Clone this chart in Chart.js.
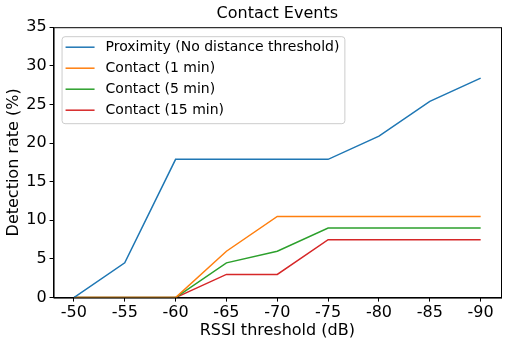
<!DOCTYPE html>
<html>
<head>
<meta charset="utf-8">
<script src="https://cdn.jsdelivr.net/npm/chart.js@4"></script>
<style>
  body { margin: 0; background: #fff; }
  #wrap { width: 507px; height: 345px; }
</style>
</head>
<body>
<div id="wrap"><canvas id="c" width="507" height="345"></canvas></div>
<script>
const thresholds = ['-50', '-55', '-60', '-65', '-70', '-75', '-80', '-85', '-90'];
const proximity = [0, 4.5, 17.9, 17.9, 17.9, 17.9, 20.9, 25.4, 28.4];
const contact1 = [0, 0, 0, 6.0, 10.5, 10.5, 10.5, 10.5, 10.5];
const contact5 = [0, 0, 0, 4.5, 6.0, 9.0, 9.0, 9.0, 9.0];
const contact15 = [0, 0, 0, 3.0, 3.0, 7.5, 7.5, 7.5, 7.5];
const yTicks = [0, 5, 10, 15, 20, 25, 30, 35];

const FONT = 'DejaVu Sans';
const pts = arr => arr.map((v, i) => ({ x: i, y: v }));

// box around the plot and legend drawn inside the axes, like matplotlib
const frameAndLegend = {
    id: 'frameAndLegend',
    afterDraw(chart) {
        const { ctx, chartArea: a } = chart;
        ctx.save();
        ctx.strokeStyle = '#000';
        ctx.lineWidth = 1;
        ctx.strokeRect(a.left + 0.5, a.top + 0.5, a.right - a.left, a.bottom - a.top);

        const x0 = a.left + 8, y0 = a.top + 9;
        ctx.font = '14px ' + FONT;
        let w = 0;
        chart.data.datasets.forEach(d => { w = Math.max(w, ctx.measureText(d.label).width); });
        const boxW = w + 49, boxH = 4 * 21 + 3;
        ctx.fillStyle = 'rgba(255,255,255,0.8)';
        ctx.strokeStyle = '#cccccc';
        ctx.beginPath();
        ctx.roundRect(x0 + 0.5, y0 + 0.5, boxW, boxH, 3);
        ctx.fill();
        ctx.stroke();
        ctx.textBaseline = 'middle';
        chart.data.datasets.forEach((d, i) => {
            const yy = y0 + 11 + i * 21;
            ctx.strokeStyle = d.borderColor;
            ctx.lineWidth = 1.5;
            ctx.beginPath();
            ctx.moveTo(x0 + 4, yy);
            ctx.lineTo(x0 + 33, yy);
            ctx.stroke();
            ctx.fillStyle = '#000';
            ctx.fillText(d.label, x0 + 44, yy);
        });
        ctx.restore();
    }
};

new Chart(document.getElementById('c'), {
    type: 'line',
    data: {
        datasets: [
            { label: 'Proximity (No distance threshold)', data: pts(proximity), borderColor: '#1f77b4' },
            { label: 'Contact (1 min)', data: pts(contact1), borderColor: '#ff7f0e' },
            { label: 'Contact (5 min)', data: pts(contact5), borderColor: '#2ca02c' },
            { label: 'Contact (15 min)', data: pts(contact15), borderColor: '#d62728' }
        ]
    },
    options: {
        responsive: false,
        animation: false,
        elements: { point: { radius: 0 }, line: { borderWidth: 1.5, tension: 0 } },
        layout: { padding: { top: 0, right: 6, bottom: -1, left: 4 } },
        plugins: {
            legend: { display: false },
            tooltip: { enabled: false },
            title: {
                display: true, fullSize: false, text: 'Contact Events', color: '#000',
                font: { family: FONT, size: 16, weight: 'normal' },
                padding: { top: 4, bottom: 4 }
            }
        },
        scales: {
            x: {
                type: 'linear', min: -0.4, max: thresholds.length - 1 + 0.4,
                afterBuildTicks: s => { s.ticks = thresholds.map((t, i) => ({ value: i })); },
                ticks: { color: '#000', font: { family: FONT, size: 16 }, padding: 2, maxRotation: 0,
                         callback: v => thresholds[v] },
                grid: { drawOnChartArea: false, tickLength: 4, color: '#000' },
                border: { color: '#000' },
                title: { display: true, text: 'RSSI threshold (dB)', color: '#000',
                         font: { family: FONT, size: 16 }, padding: { top: -4, bottom: 6 } }
            },
            y: {
                min: 0, max: 35,
                afterBuildTicks: s => { s.ticks = yTicks.map(v => ({ value: v })); },
                ticks: { color: '#000', font: { family: FONT, size: 16 }, padding: 3 },
                grid: { drawOnChartArea: false, tickLength: 4, color: '#000' },
                border: { color: '#000' },
                title: { display: true, text: 'Detection rate (%)', color: '#000',
                         font: { family: FONT, size: 16 }, padding: { top: 0, bottom: 0 } }
            }
        }
    },
    plugins: [frameAndLegend]
});
</script>
</body>
</html>
